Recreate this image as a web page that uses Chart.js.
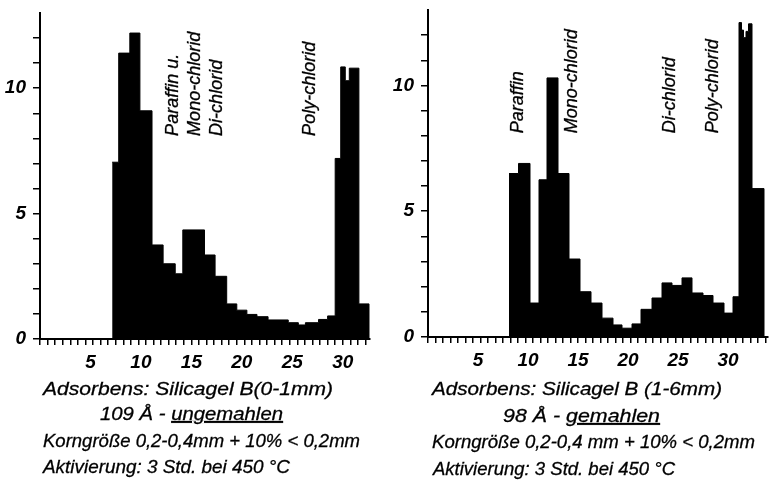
<!DOCTYPE html>
<html>
<head>
<meta charset="utf-8">
<script src="https://cdn.jsdelivr.net/npm/chart.js@4.4.1/dist/chart.umd.min.js"></script>
<style>
  body { margin: 0; background: #fff; width: 770px; height: 481px; position: relative; overflow: hidden; }
  canvas { position: absolute; top: 0; }
  #left { left: 0; }
  #right { left: 385px; }
  svg { position: absolute; left: 0; top: 0; }
  svg text { font-family: "Liberation Sans", sans-serif; font-style: italic; font-size: 19px; fill: #000; stroke: #000; stroke-width: 0.3px; }
</style>
</head>
<body>
<canvas id="left" width="385" height="385" style="width:385px;height:385px"></canvas>
<canvas id="right" width="385" height="385" style="width:385px;height:385px"></canvas>
<svg width="770" height="481">
  <text x="43" y="395" textLength="290" lengthAdjust="spacingAndGlyphs">Adsorbens:  Silicagel B(0-1mm)</text>
  <text x="100" y="420" textLength="183" lengthAdjust="spacingAndGlyphs">109 Å - <tspan style="text-decoration:underline">ungemahlen</tspan></text>
  <text x="43" y="447" textLength="317" lengthAdjust="spacingAndGlyphs">Korngröße 0,2-0,4mm + 10% &lt; 0,2mm</text>
  <text x="43" y="473" textLength="247" lengthAdjust="spacingAndGlyphs">Aktivierung: 3 Std. bei 450 °C</text>

  <text x="432" y="395" textLength="290" lengthAdjust="spacingAndGlyphs">Adsorbens:  Silicagel  B (1-6mm)</text>
  <text x="503" y="422" textLength="157" lengthAdjust="spacingAndGlyphs">98 Å - <tspan style="text-decoration:underline">gemahlen</tspan></text>
  <text x="432" y="448" textLength="323" lengthAdjust="spacingAndGlyphs">Korngröße  0,2-0,4 mm + 10% &lt; 0,2mm</text>
  <text x="433" y="475" textLength="242" lengthAdjust="spacingAndGlyphs">Aktivierung: 3 Std. bei 450 °C</text>
</svg>
<script>
    // bin edges (x) and heights
    let leftEdges = [7.15, 7.8, 8.9, 9.9, 11.1, 12.2, 13.4, 14.15, 16.3, 17.35, 18.5, 19.5, 20.5, 21.5, 22.6, 24.6, 25.6, 26.3, 27.6, 28.5, 29.25, 29.8, 30.25, 30.65, 31.6, 32.6];
    let leftCounts = [7.05, 11.4, 12.2, 9.1, 3.75, 3.0, 2.6, 4.35, 3.35, 2.5, 1.4, 1.15, 0.98, 0.89, 0.76, 0.65, 0.56, 0.65, 0.78, 0.92, 7.2, 10.85, 10.3, 10.8, 1.4, 0];

    let rightEdges = [8.1, 9.05, 10.2, 11.1, 11.9, 13.0, 14.1, 15.2, 16.3, 17.4, 18.5, 19.4, 20.4, 21.3, 22.4, 23.4, 24.4, 25.4, 26.4, 27.5, 28.5, 29.6, 30.5, 31.1, 31.35, 31.55, 31.8, 32.05, 32.4, 33.6];
    let rightCounts = [6.5, 6.9, 1.35, 6.25, 10.3, 6.5, 3.1, 1.8, 1.35, 0.75, 0.48, 0.35, 0.52, 1.1, 1.55, 2.15, 2.05, 2.35, 1.75, 1.65, 1.35, 0.95, 1.6, 12.5, 12.2, 11.9, 12.15, 12.45, 5.9, 0];

    let xTickLabels = [5, 10, 15, 20, 25, 30];
    let yTickLabels = [0, 5, 10];

    let leftNotes = ['Paraffin u.', 'Mono-chlorid', 'Di-chlorid', 'Poly-chlorid'];
    let leftNoteX = [13.2, 15.4, 17.5, 26.8];
    let rightNotes = ['Paraffin', 'Mono-chlorid', 'Di-chlorid', 'Poly-chlorid'];
    let rightNoteX = [9.0, 14.4, 24.2, 28.5];
    let noteBase = 8.1;

    function points(edges, counts) {
        return edges.map((e, i) => ({x: e, y: counts[i]}));
    }

    // rotated labels above the peaks
    const notesPlugin = {
        id: 'notes',
        afterDatasetsDraw(chart, args, opts) {
            const ctx = chart.ctx;
            const xs = chart.scales.x, ys = chart.scales.y;
            ctx.save();
            ctx.font = 'italic 18px "Liberation Sans"';
            ctx.fillStyle = '#000';
            ctx.strokeStyle = '#000';
            ctx.lineWidth = 0.3;
            ctx.textAlign = 'left';
            ctx.textBaseline = 'middle';
            opts.labels.forEach((t, i) => {
                ctx.save();
                ctx.translate(xs.getPixelForValue(opts.xs[i]), ys.getPixelForValue(opts.base));
                ctx.rotate(-Math.PI / 2);
                ctx.fillText(t, 0, 0);
                ctx.strokeText(t, 0, 0);
                ctx.restore();
            });
            ctx.restore();
        }
    };

    const tickFont = {family: 'Liberation Sans', style: 'italic', weight: 'bold', size: 19};

    // keep the plot area exactly where the layout padding puts it
    function noPad(s) {
        s.paddingTop = 0;
        s.paddingBottom = 0;
        s.paddingLeft = 0;
        s.paddingRight = 0;
    }

    function makeChart(id, edges, counts, xMax, yWidth, pad, notes, noteX) {
        return new Chart(document.getElementById(id).getContext('2d'), {
            type: 'line',
            data: {
                datasets: [{
                    data: points(edges, counts),
                    stepped: 'before',
                    fill: 'origin',
                    backgroundColor: '#000',
                    borderColor: '#000',
                    borderWidth: 1,
                    pointRadius: 0
                }]
            },
            options: {
                responsive: false,
                animation: false,
                events: [],
                layout: {padding: pad, autoPadding: false},
                plugins: {
                    legend: {display: false},
                    tooltip: {enabled: false},
                    notes: {labels: notes, xs: noteX, base: noteBase}
                },
                scales: {
                    x: {
                        type: 'linear',
                        min: 0,
                        max: xMax,
                        position: 'bottom',
                        ticks: {display: false, stepSize: 0.75, includeBounds: false},
                        grid: {display: true, drawOnChartArea: false, tickLength: 6, color: '#000', lineWidth: 1.5},
                        border: {display: true, color: '#000', width: 2},
                        afterFit: s => { s.height = 8; noPad(s); }
                    },
                    x2: {
                        type: 'linear',
                        min: 0,
                        max: xMax,
                        position: 'bottom',
                        ticks: {stepSize: 5, includeBounds: false, color: '#000', font: tickFont, padding: 4, maxRotation: 0},
                        grid: {display: false, drawTicks: false},
                        border: {display: false},
                        afterBuildTicks: s => { s.ticks = s.ticks.filter(t => xTickLabels.includes(t.value)); },
                        afterFit: s => { s.height = 30; noPad(s); }
                    },
                    y: {
                        min: 0,
                        max: 13,
                        ticks: {
                            stepSize: 1,
                            color: '#000',
                            font: tickFont,
                            padding: 7,
                            callback: v => yTickLabels.includes(v) ? String(v) : ''
                        },
                        grid: {display: true, drawOnChartArea: false, tickLength: 7, color: '#000', lineWidth: 1.5},
                        border: {display: true, color: '#000', width: 2},
                        afterBuildTicks: s => { s.ticks = s.ticks.filter(t => t.value <= 12); },
                        afterFit: s => { s.width = yWidth; noPad(s); }
                    }
                }
            },
            plugins: [notesPlugin]
        });
    }

    makeChart('left', leftEdges, leftCounts, 32.7, 40, {left: 0, right: 15, top: 13, bottom: 8}, leftNotes, leftNoteX);
    makeChart('right', rightEdges, rightCounts, 34, 43, {left: 0, right: 2, top: 10, bottom: 10}, rightNotes, rightNoteX);
</script>
</body>
</html>
